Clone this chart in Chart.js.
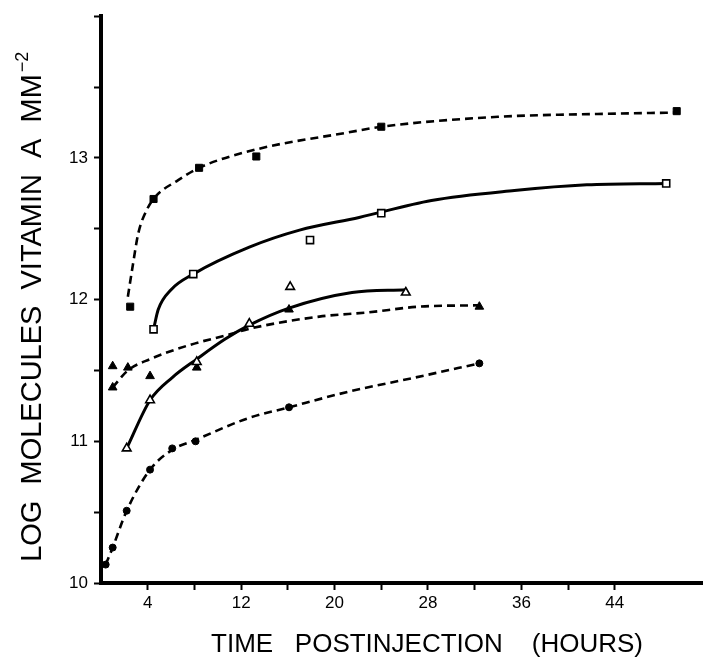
<!DOCTYPE html>
<html>
<head>
<meta charset="utf-8">
<script src="https://cdn.jsdelivr.net/npm/chart.js@4.4.0/dist/chart.umd.min.js"></script>
<style>
  html, body { margin: 0; padding: 0; background: #fff; }
  #chart { display: block; }
</style>
</head>
<body>
<canvas id="chart" width="709" height="662"></canvas>
<script>
// axis ticks (hours postinjection / log molecules)
var xTickLabels = [4, 12, 20, 28, 36, 44];
var yTickLabels = [10, 11, 12, 13];

// filled squares, dashed curve
var sqFilledX = [2.5, 4.5, 8.4, 13.3, 24.0, 49.3];
var sqFilledY = [11.95, 12.71, 12.93, 13.01, 13.22, 13.33];
var sqFilledCurveX = [2.3, 2.7, 3.2, 3.9, 4.7, 6.55, 8.4, 13.3, 21.2, 24.0, 34.0, 42.5, 49.3];
var sqFilledCurveY = [12.02, 12.23, 12.47, 12.63, 12.73, 12.84, 12.93, 13.06, 13.18, 13.22, 13.29, 13.31, 13.32];

// open squares, solid curve
var sqOpenX = [4.5, 7.9, 17.9, 24.0, 48.4];
var sqOpenY = [11.79, 12.18, 12.42, 12.61, 12.82];
var sqOpenCurveX = [4.5, 4.9, 6.0, 7.9, 12.7, 17.0, 22.1, 28.3, 35.4, 41.6, 48.4];
var sqOpenCurveY = [11.79, 11.93, 12.07, 12.18, 12.37, 12.49, 12.58, 12.70, 12.77, 12.81, 12.82];

// open triangles, solid curve
var triOpenX = [2.2, 4.2, 8.2, 12.7, 16.2, 26.1];
var triOpenY = [10.95, 11.29, 11.56, 11.83, 12.09, 12.05];
var triOpenCurveX = [2.2, 4.2, 6.1, 8.2, 10.6, 12.7, 16.1, 21.5, 26.1];
var triOpenCurveY = [10.95, 11.29, 11.45, 11.58, 11.72, 11.82, 11.94, 12.05, 12.07];

// filled triangles, dashed curve
var triFilledX = [1.0, 1.0, 2.3, 4.2, 8.2, 16.1, 32.4];
var triFilledY = [11.53, 11.38, 11.52, 11.46, 11.52, 11.93, 11.95];
var triFilledCurveX = [1.0, 2.3, 4.2, 7.6, 10.8, 13.0, 18.7, 22.9, 27.2, 32.4];
var triFilledCurveY = [11.38, 11.50, 11.58, 11.68, 11.75, 11.80, 11.88, 11.91, 11.95, 11.96];

// filled circles, dashed curve
var circX = [0.4, 1.0, 2.2, 4.2, 6.1, 8.1, 16.1, 32.4];
var circY = [10.13, 10.25, 10.51, 10.80, 10.95, 11.00, 11.24, 11.55];
var circCurveX = [0.4, 1.0, 2.2, 4.2, 6.1, 8.1, 12.5, 16.1, 21.2, 26.9, 32.4];
var circCurveY = [10.13, 10.25, 10.51, 10.80, 10.94, 11.01, 11.16, 11.24, 11.35, 11.45, 11.55];

var xTitle = 'TIME   POSTINJECTION    (HOURS)';
var yTitle = 'LOG  MOLECULES  VITAMIN  A  MM';
var yTitleSup = '\u22122';

function pts(xs, ys) {
    return xs.map(function (x, i) { return {x: x, y: ys[i]}; });
}

function curve(xs, ys, dashed) {
    return {
        type: 'line',
        data: pts(xs, ys),
        borderColor: '#000',
        borderWidth: dashed ? 2.6 : 3,
        borderDash: dashed ? [8, 5] : [],
        pointRadius: 0,
        cubicInterpolationMode: 'monotone',
        fill: false,
        order: 1
    };
}

function marks(xs, ys, style, open, radius) {
    return {
        type: 'scatter',
        data: pts(xs, ys),
        showLine: false,
        pointStyle: style,
        pointRadius: radius,
        pointBackgroundColor: open ? '#fff' : '#000',
        pointBorderColor: '#000',
        pointBorderWidth: open ? 1.6 : 1,
        order: 0
    };
}

// draws the two axis titles (y one carries a superscript)
var axisTitles = {
    id: 'axisTitles',
    afterDraw: function (chart) {
        var ctx = chart.ctx;
        ctx.save();
        ctx.fillStyle = '#000';
        ctx.textBaseline = 'middle';
        ctx.textAlign = 'center';
        ctx.font = '26px "Liberation Sans", Arial, sans-serif';
        ctx.fillText(xTitle, 427, 645);

        ctx.translate(33, 318);
        ctx.rotate(-Math.PI / 2);
        ctx.font = '29px "Liberation Sans", Arial, sans-serif';
        ctx.fillText(yTitle, 0, 0);
        var w = ctx.measureText(yTitle).width;
        ctx.font = '18px "Liberation Sans", Arial, sans-serif';
        ctx.textAlign = 'left';
        ctx.fillText(yTitleSup, w / 2 + 2, -10);
        ctx.restore();
    }
};

new Chart(document.getElementById('chart'), {
    type: 'scatter',
    data: {
        datasets: [
            marks(sqFilledX, sqFilledY, 'rect', false, 5),
            marks(sqOpenX, sqOpenY, 'rect', true, 5),
            marks(triOpenX, triOpenY, 'triangle', true, 5),
            marks(triFilledX, triFilledY, 'triangle', false, 5),
            marks(circX, circY, 'circle', false, 3.5),
            curve(sqFilledCurveX, sqFilledCurveY, true),
            curve(sqOpenCurveX, sqOpenCurveY, false),
            curve(triOpenCurveX, triOpenCurveY, false),
            curve(triFilledCurveX, triFilledCurveY, true),
            curve(circCurveX, circCurveY, true)
        ]
    },
    options: {
        responsive: false,
        animation: false,
        layout: {padding: {top: 16, right: 3, left: 0, bottom: 0}},
        plugins: {
            legend: {display: false},
            tooltip: {enabled: false}
        },
        scales: {
            x: {
                type: 'linear',
                min: 0,
                max: 51.5,
                afterFit: function (scale) { scale.height = 79; },
                afterBuildTicks: function (scale) {
                    scale.ticks = scale.ticks.filter(function (t) {
                        return t.value > 0 && t.value % 4 === 0;
                    });
                },
                ticks: {
                    stepSize: 4,
                    autoSkip: false,
                    maxRotation: 0,
                    padding: 3,
                    color: '#000',
                    font: {family: '"Liberation Sans", Arial, sans-serif', size: 17},
                    callback: function (v) {
                        return xTickLabels.indexOf(v) >= 0 ? String(v) : '';
                    }
                },
                grid: {
                    drawOnChartArea: false,
                    drawTicks: true,
                    tickLength: 7,
                    tickWidth: 2,
                    tickColor: '#000'
                },
                border: {display: true, color: '#000', width: 4}
            },
            y: {
                type: 'linear',
                min: 10,
                max: 14,
                afterFit: function (scale) { scale.width = 101; },
                ticks: {
                    stepSize: 0.5,
                    autoSkip: false,
                    padding: 6,
                    color: '#000',
                    font: {family: '"Liberation Sans", Arial, sans-serif', size: 17},
                    callback: function (v) {
                        return yTickLabels.indexOf(v) >= 0 ? String(v) : '';
                    }
                },
                grid: {
                    drawOnChartArea: false,
                    drawTicks: true,
                    tickLength: 7,
                    tickWidth: 2,
                    tickColor: '#000'
                },
                border: {display: true, color: '#000', width: 4}
            }
        }
    },
    plugins: [axisTitles]
});
</script>
</body>
</html>
